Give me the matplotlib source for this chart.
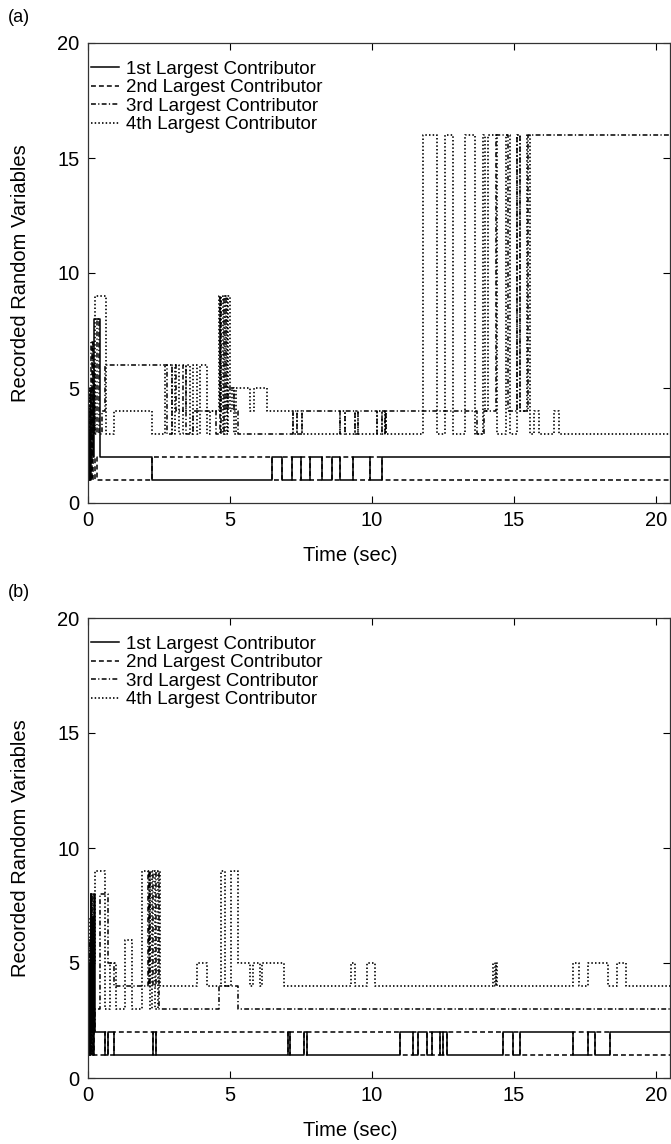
import matplotlib
matplotlib.use("Agg")
import matplotlib.pyplot as plt

plt.rcParams['font.family'] = ['Liberation Sans', 'DejaVu Sans']

labels = ["1st Largest Contributor", "2nd Largest Contributor",
          "3rd Largest Contributor", "4th Largest Contributor"]

# ---- panel (a): switching times (sec) and recorded variable index ----
a1_t = [0, 0.04, 0.08, 0.12, 0.16, 0.2, 0.44, 2.24, 6.47, 6.82, 7.17, 7.52, 7.82,
        8.23, 8.58, 8.87, 9.34, 9.93, 10.34, 20.5]
a1_v = [1, 3, 1, 5, 2, 8, 2, 1, 2, 1, 2, 1, 2, 1, 2, 1, 2, 1, 2, 2]

a2_t = [0, 0.03, 0.07, 0.11, 0.15, 0.19, 0.24, 0.3, 2.24, 6.47, 6.82, 7.17, 7.52,
        7.82, 8.23, 8.58, 8.87, 9.34, 9.93, 10.34, 20.5]
a2_v = [2, 1, 4, 1, 7, 1, 2, 1, 2, 1, 2, 1, 2, 1, 2, 1, 2, 1, 2, 1, 1]

a3_t = [0, 0.04, 0.08, 0.12, 0.16, 0.2, 0.25, 0.3, 0.4, 0.5, 0.6, 2.77, 2.95, 3.1,
        3.35, 3.45, 3.7, 4.5, 4.65, 4.7, 4.78, 4.85, 4.93, 5.15, 5.3, 7.22, 7.36,
        7.53, 8.87, 9.05, 9.4, 9.5, 10.17, 10.34, 10.45, 10.5, 13.7, 13.95, 14.38,
        14.8, 15.12, 15.2, 15.5, 20.5]
a3_v = [3, 5, 2, 7, 3, 6, 3, 8, 3, 4, 6, 3, 6, 4, 6, 3, 4, 3, 9, 3, 9, 4, 5, 4, 3,
        4, 3, 4, 3, 4, 3, 4, 3, 4, 3, 4, 3, 4, 16, 4, 16, 4, 16, 16]

a4_t = [0, 0.04, 0.08, 0.12, 0.16, 0.2, 0.26, 0.62, 0.9, 2.25, 2.7, 2.95, 3.05, 3.2,
        3.35, 3.45, 3.6, 3.7, 3.85, 3.95, 4.2, 4.3, 4.6, 4.65, 4.7, 4.75, 4.82, 4.88,
        4.93, 5.0, 5.07, 5.15, 5.22, 5.7, 5.85, 6.29, 7.22, 7.36, 7.53, 8.87, 9.05,
        9.4, 9.5, 10.17, 10.34, 10.45, 10.5, 11.81, 12.28, 12.57, 12.86, 13.27, 13.63,
        13.9, 14.0, 14.1, 14.39, 14.74, 14.86, 15.1, 15.2, 15.45, 15.56, 15.7, 15.9,
        16.4, 16.6, 20.5]
a4_v = [4, 2, 5, 2, 4, 3, 9, 3, 4, 3, 6, 3, 6, 3, 4, 6, 3, 6, 3, 6, 3, 4, 9, 4, 9,
        3, 9, 3, 9, 4, 5, 3, 5, 4, 5, 4, 3, 4, 3, 4, 3, 4, 3, 4, 3, 4, 3, 16, 3, 16,
        3, 16, 3, 16, 4, 16, 3, 16, 3, 16, 4, 16, 3, 4, 3, 4, 3, 3]

# ---- panel (b) ----
b1_t = [0, 0.03, 0.06, 0.09, 0.12, 0.15, 0.18, 0.21, 0.25, 0.6, 0.7, 0.9, 2.3, 2.4,
        7.05, 7.1, 7.6, 7.7, 10.98, 11.45, 11.63, 11.93, 12.1, 12.39, 12.5, 12.63,
        14.62, 14.97, 15.2, 17.09, 17.6, 17.85, 18.38, 20.5]
b1_v = [1, 5, 1, 8, 2, 7, 1, 8, 2, 1, 2, 1, 2, 1, 2, 1, 2, 1, 2, 1, 2, 1, 2, 1, 2,
        1, 2, 1, 2, 1, 2, 1, 2, 2]

b2_t = [0, 0.04, 0.08, 0.13, 0.17, 0.21, 0.25, 0.6, 0.7, 0.9, 2.3, 2.4, 7.05, 7.1,
        7.6, 7.7, 10.98, 11.45, 11.63, 11.93, 12.1, 12.39, 12.5, 12.63, 14.62, 14.97,
        15.2, 17.09, 17.6, 17.85, 18.38, 20.5]
b2_v = [2, 1, 3, 1, 6, 1, 1, 2, 1, 2, 1, 2, 1, 2, 1, 2, 1, 2, 1, 2, 1, 2, 1, 2, 1,
        2, 1, 2, 1, 2, 1, 1]

b3_t = [0, 0.03, 0.06, 0.09, 0.12, 0.15, 0.18, 0.21, 0.25, 0.43, 0.7, 0.93, 2.1,
        2.15, 2.2, 2.3, 2.4, 2.5, 4.6, 5.3, 20.5]
b3_v = [2, 6, 3, 1, 8, 4, 6, 2, 3, 8, 5, 4, 9, 4, 9, 4, 9, 3, 4, 3, 3]

b4_t = [0, 0.03, 0.06, 0.09, 0.12, 0.15, 0.18, 0.21, 0.25, 0.6, 0.76, 1.0, 1.3, 1.54,
        1.89, 2.19, 2.25, 2.35, 2.45, 2.53, 3.85, 4.2, 4.67, 4.84, 5.02, 5.3, 5.72,
        5.8, 6.05, 6.12, 6.9, 9.25, 9.42, 9.81, 10.1, 14.28, 14.32, 14.36, 14.4,
        17.1, 17.3, 17.62, 18.3, 18.62, 18.95, 20.5]
b4_v = [3, 1, 7, 4, 1, 8, 3, 5, 9, 3, 5, 3, 6, 3, 9, 3, 9, 3, 9, 4, 5, 4, 9, 4, 9,
        5, 4, 5, 4, 5, 4, 5, 4, 5, 4, 5, 4, 5, 4, 5, 4, 5, 4, 5, 4, 4]

styles = [
    dict(linestyle='-', lw=1.1),
    dict(linestyle=(0, (3.2, 2.0)), lw=1.1),
    dict(linestyle=(0, (3.2, 1.5, 0.8, 1.5)), lw=1.1),
    dict(linestyle=(0, (0.9, 1.3)), lw=1.2),
]


def draw_panel(ax, series, tag):
    for (t, v), st, lab in zip(series, styles, labels):
        ax.step(t, v, where='post', color='black', label=lab, **st)
    ax.set_xlim(0, 20.5)
    ax.set_ylim(0, 20)
    ax.set_xticks([0, 5, 10, 15, 20])
    ax.set_yticks([0, 5, 10, 15, 20])
    ax.tick_params(direction='in', top=True, right=True, length=5, width=0.8,
                   labelsize=14.5)
    ax.tick_params(axis='x', pad=6)
    ax.tick_params(axis='y', pad=6)
    for sp in ax.spines.values():
        sp.set_linewidth(0.9)
        sp.set_color('#333333')
    ax.set_xlabel("Time (sec)", fontsize=14.5)
    ax.xaxis.set_label_coords(0.45, -0.094)
    ax.set_ylabel("Recorded Random Variables", fontsize=14.5)
    ax.yaxis.set_label_coords(-0.1, 0.5)
    ax.legend(loc='upper left', bbox_to_anchor=(0.005, 0.962), frameon=False,
              fontsize=13.5, handlelength=1.5, handletextpad=0.35,
              labelspacing=0.08, borderpad=0, borderaxespad=0)
    ax.text(-0.137, 1.055, tag, transform=ax.transAxes, fontsize=13,
            ha='left', va='center')


fig = plt.figure(figsize=(6.71, 11.44), dpi=100)
ax_a = fig.add_axes([88 / 671, 1 - 503 / 1144, 582 / 671, 460 / 1144])
ax_b = fig.add_axes([88 / 671, 1 - 1078 / 1144, 582 / 671, 460 / 1144])

draw_panel(ax_a, [(a1_t, a1_v), (a2_t, a2_v), (a3_t, a3_v), (a4_t, a4_v)], "(a)")
draw_panel(ax_b, [(b1_t, b1_v), (b2_t, b2_v), (b3_t, b3_v), (b4_t, b4_v)], "(b)")

fig.savefig("out.png", dpi=100)
